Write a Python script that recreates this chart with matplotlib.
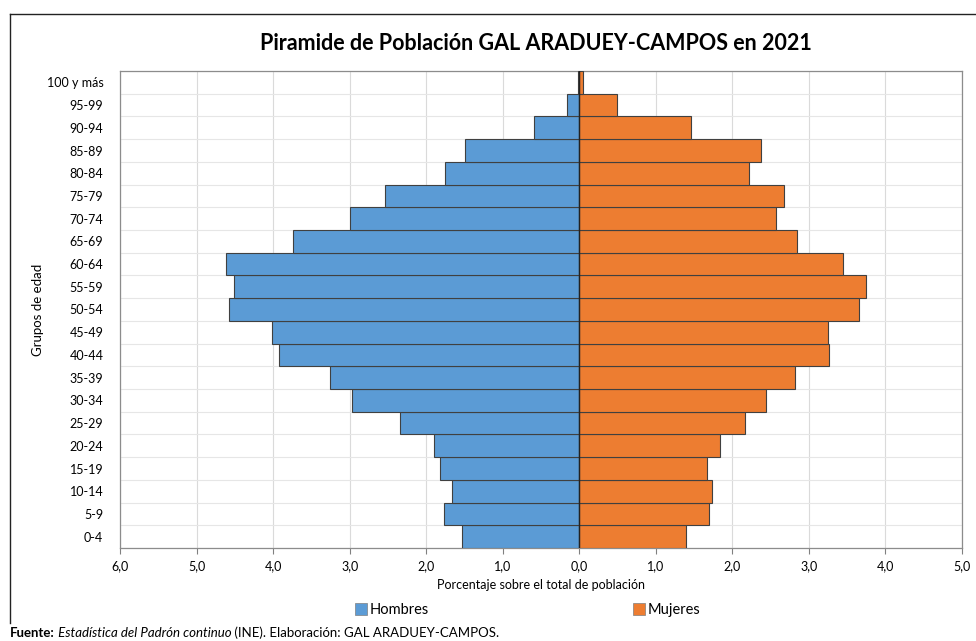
import matplotlib
matplotlib.use("Agg")
import matplotlib.pyplot as plt
from matplotlib.lines import Line2D
from matplotlib.patches import Patch
import numpy as np

plt.rcParams['font.family'] = ['Lato', 'DejaVu Sans']

age_groups = ["0-4", "5-9", "10-14", "15-19", "20-24", "25-29", "30-34", "35-39",
              "40-44", "45-49", "50-54", "55-59", "60-64", "65-69", "70-74", "75-79",
              "80-84", "85-89", "90-94", "95-99", "100 y más"]
hombres = [1.53, 1.77, 1.66, 1.82, 1.90, 2.34, 2.97, 3.25, 3.92, 4.02, 4.58, 4.51,
           4.62, 3.74, 3.00, 2.54, 1.75, 1.49, 0.59, 0.16, 0.02]
mujeres = [1.39, 1.70, 1.74, 1.67, 1.84, 2.16, 2.44, 2.82, 3.26, 3.25, 3.65, 3.74,
           3.45, 2.84, 2.57, 2.67, 2.22, 2.37, 1.46, 0.49, 0.05]
x_ticks = [-6, -5, -4, -3, -2, -1, 0, 1, 2, 3, 4, 5]
x_tick_labels = ["6,0", "5,0", "4,0", "3,0", "2,0", "1,0", "0,0", "1,0", "2,0", "3,0", "4,0", "5,0"]

W, H = 976, 641
fig = plt.figure(figsize=(W / 100, H / 100), dpi=100)
ax = fig.add_axes([120 / W, 1 - 548 / H, (962 - 120) / W, (548 - 71) / H])

y = np.arange(len(age_groups))
blue = "#5B9BD5"
orange = "#ED7D31"
edge = "#404040"
ax.barh(y, [-v for v in hombres], height=1.0, color=blue, edgecolor=edge, linewidth=0.8, zorder=3)
ax.barh(y, mujeres, height=1.0, color=orange, edgecolor=edge, linewidth=0.8, zorder=3)

ax.set_xlim(-6, 5)
ax.set_ylim(-0.5, len(age_groups) - 0.5)
ax.set_xticks(x_ticks)
ax.set_xticklabels(x_tick_labels, fontsize=9)
ax.set_yticks(y)
ax.set_yticklabels(age_groups, fontsize=9)
ax.set_yticks(np.arange(-0.5, len(age_groups), 1.0), minor=True)
ax.tick_params(axis='y', which='both', length=0, pad=12)
ax.tick_params(axis='x', which='major', length=4, color="#808080", pad=5)
ax.grid(axis='x', which='major', color="#DADADA", linewidth=0.8, zorder=0)
ax.grid(axis='y', which='minor', color="#E6E6E6", linewidth=0.8, zorder=0)
ax.axvline(0, color="#222222", linewidth=1.0, zorder=4)
for s in ax.spines.values():
    s.set_color("#8C8C8C")
    s.set_linewidth(0.9)

ax.set_xlabel("Porcentaje sobre el total de población", fontsize=9, labelpad=5)
ax.set_ylabel("Grupos de edad", fontsize=9.5, labelpad=2)

fig.text(536 / W, 1 - 44 / H, "Piramide de Población GAL ARADUEY-CAMPOS en 2021",
         ha='center', va='center', fontsize=15.5, fontweight='bold')

handles = [Patch(facecolor=blue, edgecolor="#7F7F7F", linewidth=0.5, label="Hombres"),
           Patch(facecolor=orange, edgecolor="#7F7F7F", linewidth=0.5, label="Mujeres")]
fig.legend(handles=handles, loc='center', bbox_to_anchor=(528 / W, 1 - 610 / H), ncol=2,
           frameon=False, fontsize=10.5, handlelength=0.8, handleheight=0.8,
           handletextpad=0.2, columnspacing=14)

# outer border (left, top)
fig.add_artist(Line2D([10 / W, 10 / W], [1 - 14 / H, 1 - 623 / H], color="#222222", linewidth=1.0))
fig.add_artist(Line2D([10 / W, 975 / W], [1 - 14 / H, 1 - 14 / H], color="#222222", linewidth=1.0))

# footer with mixed styles
t1 = fig.text(10 / W, 1 - 633 / H, "Fuente:", fontsize=9.5, fontweight='bold', va='center', ha='left')
t2 = fig.text(0, 0, "")
t2.remove()
ann2 = fig.add_artist(matplotlib.text.Annotation(
    " Estadística del Padrón continuo", xy=(1, 0.5), xycoords=t1,
    va='center', ha='left', fontsize=9.5, style='italic', annotation_clip=False))
ann3 = fig.add_artist(matplotlib.text.Annotation(
    " (INE). Elaboración: GAL ARADUEY-CAMPOS.", xy=(1, 0.5), xycoords=ann2,
    va='center', ha='left', fontsize=9.5, annotation_clip=False))

fig.savefig("out.png", dpi=100, facecolor="white")
